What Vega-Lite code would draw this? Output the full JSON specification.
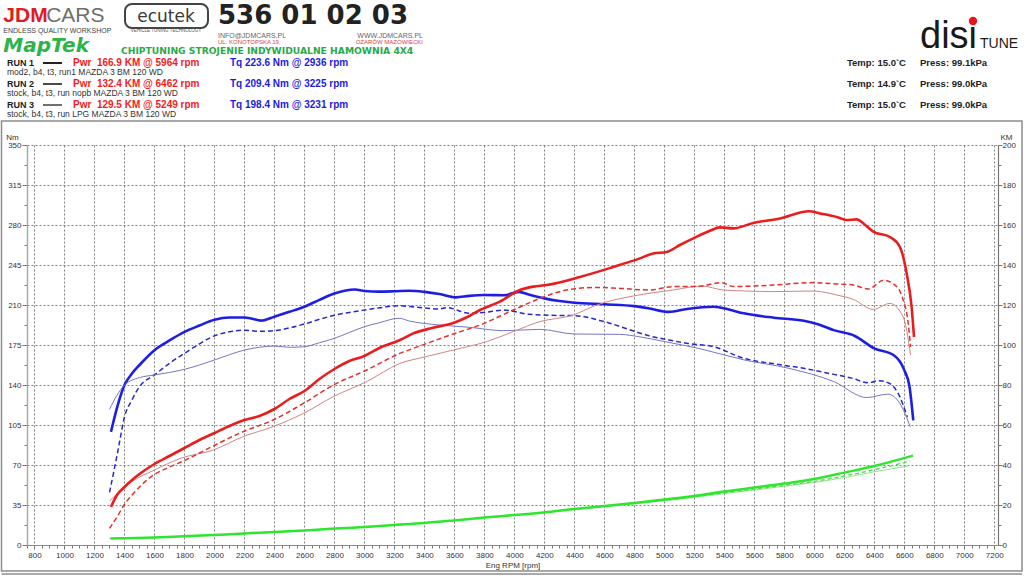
{
  "$schema": "https://vega.github.io/schema/vega-lite/v6.json",
  "autosize": {"type": "none"},
  "padding": {"left": 27, "top": 145, "right": 26, "bottom": 31},
  "width": 971,
  "height": 400,
  "background": "white",
  "config": {"view": {"stroke": null}, "font": "Liberation Sans"},
  "datasets": {
    "runs": [
      {"run": "RUN 1", "setup": "mod2, b4, t3, run1 MAZDA 3 BM 120 WD", "pwr": 166.9, "pwr_rpm": 5964, "tq": 223.6, "tq_rpm": 2936, "temp": 15.0, "press": 99.1},
      {"run": "RUN 2", "setup": "stock, b4, t3, run nopb MAZDA 3 BM 120 WD", "pwr": 132.4, "pwr_rpm": 6462, "tq": 209.4, "tq_rpm": 3225, "temp": 14.9, "press": 99.0},
      {"run": "RUN 3", "setup": "stock, b4, t3, run LPG MAZDA 3 BM 120 WD", "pwr": 129.5, "pwr_rpm": 5249, "tq": 198.4, "tq_rpm": 3231, "temp": 15.0, "press": 99.0}
    ],
    "torque": [
      {"run":1,"rpm":1310,"nm":99},{"run":1,"rpm":1350,"nm":120},{"run":1,"rpm":1400,"nm":140},{"run":1,"rpm":1450,"nm":150},{"run":1,"rpm":1500,"nm":157.5},{"run":1,"rpm":1600,"nm":170.5},{"run":1,"rpm":1700,"nm":179},{"run":1,"rpm":1800,"nm":186.5},{"run":1,"rpm":1900,"nm":192},{"run":1,"rpm":2000,"nm":197},{"run":1,"rpm":2100,"nm":199},{"run":1,"rpm":2200,"nm":199},{"run":1,"rpm":2250,"nm":198},{"run":1,"rpm":2310,"nm":196.3},{"run":1,"rpm":2400,"nm":199.8},{"run":1,"rpm":2500,"nm":204},{"run":1,"rpm":2600,"nm":208.5},{"run":1,"rpm":2700,"nm":214.5},{"run":1,"rpm":2800,"nm":220},{"run":1,"rpm":2936,"nm":223.6},{"run":1,"rpm":3000,"nm":222.3},{"run":1,"rpm":3100,"nm":221.7},{"run":1,"rpm":3200,"nm":222},{"run":1,"rpm":3300,"nm":222.5},{"run":1,"rpm":3400,"nm":221.5},{"run":1,"rpm":3500,"nm":219.6},{"run":1,"rpm":3610,"nm":216.7},{"run":1,"rpm":3700,"nm":218},{"run":1,"rpm":3800,"nm":218.7},{"run":1,"rpm":3930,"nm":218.5},{"run":1,"rpm":4030,"nm":221.5},{"run":1,"rpm":4100,"nm":219},{"run":1,"rpm":4200,"nm":215.8},{"run":1,"rpm":4300,"nm":213.5},{"run":1,"rpm":4400,"nm":212},{"run":1,"rpm":4600,"nm":210.6},{"run":1,"rpm":4800,"nm":209},{"run":1,"rpm":4900,"nm":207},{"run":1,"rpm":5030,"nm":204},{"run":1,"rpm":5150,"nm":206.5},{"run":1,"rpm":5330,"nm":208.5},{"run":1,"rpm":5430,"nm":206},{"run":1,"rpm":5530,"nm":202.7},{"run":1,"rpm":5730,"nm":198.9},{"run":1,"rpm":5930,"nm":196.3},{"run":1,"rpm":6030,"nm":193},{"run":1,"rpm":6130,"nm":188},{"run":1,"rpm":6270,"nm":182.9},{"run":1,"rpm":6400,"nm":172},{"run":1,"rpm":6530,"nm":166},{"run":1,"rpm":6600,"nm":153},{"run":1,"rpm":6635,"nm":138.5},{"run":1,"rpm":6660,"nm":109},
      {"run":2,"rpm":1300,"nm":46},{"run":2,"rpm":1330,"nm":65},{"run":2,"rpm":1360,"nm":85},{"run":2,"rpm":1400,"nm":112},{"run":2,"rpm":1450,"nm":127},{"run":2,"rpm":1500,"nm":138.5},{"run":2,"rpm":1600,"nm":148.8},{"run":2,"rpm":1700,"nm":159},{"run":2,"rpm":1800,"nm":167.7},{"run":2,"rpm":1900,"nm":176},{"run":2,"rpm":2000,"nm":183},{"run":2,"rpm":2100,"nm":186.5},{"run":2,"rpm":2200,"nm":188},{"run":2,"rpm":2300,"nm":187},{"run":2,"rpm":2400,"nm":187.5},{"run":2,"rpm":2500,"nm":190},{"run":2,"rpm":2600,"nm":193.4},{"run":2,"rpm":2700,"nm":197.5},{"run":2,"rpm":2800,"nm":201},{"run":2,"rpm":2900,"nm":203.5},{"run":2,"rpm":3000,"nm":205.6},{"run":2,"rpm":3100,"nm":207.5},{"run":2,"rpm":3225,"nm":209.4},{"run":2,"rpm":3350,"nm":208},{"run":2,"rpm":3500,"nm":206.5},{"run":2,"rpm":3550,"nm":207.7},{"run":2,"rpm":3700,"nm":202.7},{"run":2,"rpm":3800,"nm":203.5},{"run":2,"rpm":3930,"nm":205.6},{"run":2,"rpm":4100,"nm":201.8},{"run":2,"rpm":4250,"nm":201},{"run":2,"rpm":4400,"nm":200.7},{"run":2,"rpm":4600,"nm":195.4},{"run":2,"rpm":4800,"nm":187},{"run":2,"rpm":4900,"nm":183},{"run":2,"rpm":5030,"nm":179.4},{"run":2,"rpm":5150,"nm":176.5},{"run":2,"rpm":5330,"nm":173.5},{"run":2,"rpm":5530,"nm":163.3},{"run":2,"rpm":5730,"nm":158.5},{"run":2,"rpm":5930,"nm":154.6},{"run":2,"rpm":6130,"nm":149.3},{"run":2,"rpm":6250,"nm":146},{"run":2,"rpm":6360,"nm":142},{"run":2,"rpm":6430,"nm":143.8},{"run":2,"rpm":6500,"nm":141.5},{"run":2,"rpm":6570,"nm":129.8},{"run":2,"rpm":6620,"nm":112},
      {"run":3,"rpm":1300,"nm":118.7},{"run":3,"rpm":1350,"nm":131},{"run":3,"rpm":1400,"nm":140},{"run":3,"rpm":1500,"nm":146.4},{"run":3,"rpm":1600,"nm":148.8},{"run":3,"rpm":1700,"nm":151},{"run":3,"rpm":1800,"nm":153.7},{"run":3,"rpm":1900,"nm":157.5},{"run":3,"rpm":2000,"nm":161.9},{"run":3,"rpm":2100,"nm":166.5},{"run":3,"rpm":2200,"nm":170.6},{"run":3,"rpm":2300,"nm":173},{"run":3,"rpm":2400,"nm":174.1},{"run":3,"rpm":2500,"nm":173},{"run":3,"rpm":2600,"nm":173.5},{"run":3,"rpm":2700,"nm":177},{"run":3,"rpm":2800,"nm":180.8},{"run":3,"rpm":2900,"nm":186},{"run":3,"rpm":3000,"nm":191},{"run":3,"rpm":3100,"nm":194.5},{"run":3,"rpm":3231,"nm":198.4},{"run":3,"rpm":3300,"nm":196},{"run":3,"rpm":3500,"nm":192.5},{"run":3,"rpm":3700,"nm":190.5},{"run":3,"rpm":3930,"nm":187.5},{"run":3,"rpm":4170,"nm":188.7},{"run":3,"rpm":4400,"nm":184.6},{"run":3,"rpm":4700,"nm":184.3},{"run":3,"rpm":4830,"nm":182.3},{"run":3,"rpm":5000,"nm":178},{"run":3,"rpm":5230,"nm":172},{"run":3,"rpm":5530,"nm":162},{"run":3,"rpm":5830,"nm":154.6},{"run":3,"rpm":6130,"nm":143},{"run":3,"rpm":6350,"nm":129},{"run":3,"rpm":6490,"nm":132},{"run":3,"rpm":6570,"nm":124},{"run":3,"rpm":6640,"nm":103.5}
    ],
    "power": [
      {"run":1,"rpm":1310,"km":19},{"run":1,"rpm":1350,"km":25},{"run":1,"rpm":1400,"km":29},{"run":1,"rpm":1450,"km":32.5},{"run":1,"rpm":1500,"km":35.5},{"run":1,"rpm":1600,"km":40.5},{"run":1,"rpm":1700,"km":44.5},{"run":1,"rpm":1800,"km":48.5},{"run":1,"rpm":1900,"km":52.5},{"run":1,"rpm":2000,"km":56},{"run":1,"rpm":2100,"km":59.5},{"run":1,"rpm":2200,"km":62.5},{"run":1,"rpm":2300,"km":64.5},{"run":1,"rpm":2400,"km":68},{"run":1,"rpm":2500,"km":73},{"run":1,"rpm":2600,"km":77},{"run":1,"rpm":2700,"km":83},{"run":1,"rpm":2800,"km":88},{"run":1,"rpm":2900,"km":92},{"run":1,"rpm":3000,"km":94.5},{"run":1,"rpm":3100,"km":98.5},{"run":1,"rpm":3237,"km":102.5},{"run":1,"rpm":3326,"km":105.8},{"run":1,"rpm":3450,"km":108.5},{"run":1,"rpm":3593,"km":111},{"run":1,"rpm":3700,"km":114.5},{"run":1,"rpm":3771,"km":117.5},{"run":1,"rpm":3904,"km":121.7},{"run":1,"rpm":4037,"km":127.5},{"run":1,"rpm":4126,"km":129.2},{"run":1,"rpm":4215,"km":130},{"run":1,"rpm":4437,"km":134},{"run":1,"rpm":4659,"km":139},{"run":1,"rpm":4837,"km":143.3},{"run":1,"rpm":4926,"km":145.8},{"run":1,"rpm":5015,"km":146.5},{"run":1,"rpm":5104,"km":150},{"run":1,"rpm":5193,"km":153.3},{"run":1,"rpm":5300,"km":157},{"run":1,"rpm":5371,"km":158.8},{"run":1,"rpm":5460,"km":158.3},{"run":1,"rpm":5593,"km":161},{"run":1,"rpm":5771,"km":163.3},{"run":1,"rpm":5964,"km":166.9},{"run":1,"rpm":6038,"km":165.8},{"run":1,"rpm":6150,"km":164},{"run":1,"rpm":6215,"km":162.5},{"run":1,"rpm":6282,"km":162.8},{"run":1,"rpm":6340,"km":160},{"run":1,"rpm":6393,"km":156.7},{"run":1,"rpm":6504,"km":154},{"run":1,"rpm":6571,"km":149},{"run":1,"rpm":6616,"km":135.8},{"run":1,"rpm":6649,"km":119},{"run":1,"rpm":6665,"km":104},
      {"run":2,"rpm":1300,"km":8.3},{"run":2,"rpm":1350,"km":14},{"run":2,"rpm":1397,"km":20},{"run":2,"rpm":1450,"km":25},{"run":2,"rpm":1500,"km":29},{"run":2,"rpm":1594,"km":35},{"run":2,"rpm":1700,"km":39},{"run":2,"rpm":1808,"km":42.5},{"run":2,"rpm":1900,"km":46},{"run":2,"rpm":2005,"km":50},{"run":2,"rpm":2192,"km":56.7},{"run":2,"rpm":2392,"km":62.5},{"run":2,"rpm":2593,"km":70.8},{"run":2,"rpm":2793,"km":80},{"run":2,"rpm":3015,"km":87.5},{"run":2,"rpm":3237,"km":95.8},{"run":2,"rpm":3326,"km":98.3},{"run":2,"rpm":3593,"km":105.5},{"run":2,"rpm":3771,"km":110},{"run":2,"rpm":3993,"km":117.5},{"run":2,"rpm":4171,"km":123.3},{"run":2,"rpm":4349,"km":127.5},{"run":2,"rpm":4549,"km":128.8},{"run":2,"rpm":4704,"km":128.3},{"run":2,"rpm":4900,"km":127.5},{"run":2,"rpm":5059,"km":129.2},{"run":2,"rpm":5215,"km":129.2},{"run":2,"rpm":5382,"km":131.2},{"run":2,"rpm":5460,"km":129.2},{"run":2,"rpm":5600,"km":129.5},{"run":2,"rpm":5727,"km":130},{"run":2,"rpm":5993,"km":131.2},{"run":2,"rpm":6150,"km":130.5},{"run":2,"rpm":6260,"km":130},{"run":2,"rpm":6360,"km":128},{"run":2,"rpm":6462,"km":132.4},{"run":2,"rpm":6549,"km":129.2},{"run":2,"rpm":6593,"km":122.5},{"run":2,"rpm":6626,"km":111},{"run":2,"rpm":6642,"km":99},
      {"run":3,"rpm":1300,"km":22},{"run":3,"rpm":1350,"km":25.5},{"run":3,"rpm":1450,"km":31.7},{"run":3,"rpm":1600,"km":37.5},{"run":3,"rpm":1772,"km":43.3},{"run":3,"rpm":1992,"km":47.5},{"run":3,"rpm":2192,"km":54.2},{"run":3,"rpm":2392,"km":59.2},{"run":3,"rpm":2593,"km":65.8},{"run":3,"rpm":2793,"km":74.2},{"run":3,"rpm":3015,"km":81.7},{"run":3,"rpm":3237,"km":90.8},{"run":3,"rpm":3400,"km":94},{"run":3,"rpm":3593,"km":97.5},{"run":3,"rpm":3815,"km":101.7},{"run":3,"rpm":3993,"km":106.7},{"run":3,"rpm":4171,"km":111.7},{"run":3,"rpm":4393,"km":115},{"run":3,"rpm":4549,"km":120},{"run":3,"rpm":4793,"km":124.5},{"run":3,"rpm":5059,"km":127.5},{"run":3,"rpm":5249,"km":129.5},{"run":3,"rpm":5393,"km":127.5},{"run":3,"rpm":5550,"km":127},{"run":3,"rpm":5727,"km":126.7},{"run":3,"rpm":5993,"km":127},{"run":3,"rpm":6150,"km":125},{"run":3,"rpm":6260,"km":122.8},{"run":3,"rpm":6393,"km":117.8},{"run":3,"rpm":6504,"km":120.8},{"run":3,"rpm":6593,"km":114},{"run":3,"rpm":6642,"km":95}
    ],
    "loss": [
      {"run":1,"rpm":1310,"km":3.3},{"run":1,"rpm":1600,"km":3.8},{"run":1,"rpm":1800,"km":4.4},{"run":1,"rpm":2000,"km":5},{"run":1,"rpm":2200,"km":5.8},{"run":1,"rpm":2400,"km":6.5},{"run":1,"rpm":2600,"km":7.3},{"run":1,"rpm":2800,"km":8.2},{"run":1,"rpm":3000,"km":9},{"run":1,"rpm":3200,"km":10},{"run":1,"rpm":3400,"km":11},{"run":1,"rpm":3600,"km":12.3},{"run":1,"rpm":3800,"km":13.7},{"run":1,"rpm":4000,"km":15},{"run":1,"rpm":4200,"km":16.3},{"run":1,"rpm":4400,"km":18},{"run":1,"rpm":4600,"km":19.5},{"run":1,"rpm":4800,"km":21},{"run":1,"rpm":5000,"km":22.7},{"run":1,"rpm":5200,"km":24.5},{"run":1,"rpm":5400,"km":26.7},{"run":1,"rpm":5600,"km":28.7},{"run":1,"rpm":5800,"km":30.7},{"run":1,"rpm":6000,"km":33},{"run":1,"rpm":6200,"km":36.2},{"run":1,"rpm":6400,"km":39.5},{"run":1,"rpm":6658,"km":44.7},
      {"run":2,"rpm":1300,"km":3.3},{"run":2,"rpm":1600,"km":3.8},{"run":2,"rpm":1800,"km":4.4},{"run":2,"rpm":2000,"km":5},{"run":2,"rpm":2200,"km":5.8},{"run":2,"rpm":2400,"km":6.5},{"run":2,"rpm":2600,"km":7.3},{"run":2,"rpm":2800,"km":8.2},{"run":2,"rpm":3000,"km":9},{"run":2,"rpm":3200,"km":10},{"run":2,"rpm":3400,"km":11},{"run":2,"rpm":3600,"km":12.3},{"run":2,"rpm":3800,"km":13.7},{"run":2,"rpm":4000,"km":15},{"run":2,"rpm":4200,"km":16.3},{"run":2,"rpm":4400,"km":17.9},{"run":2,"rpm":4600,"km":19.4},{"run":2,"rpm":4800,"km":20.8},{"run":2,"rpm":5000,"km":22.4},{"run":2,"rpm":5200,"km":24.1},{"run":2,"rpm":5400,"km":26.1},{"run":2,"rpm":5600,"km":27.9},{"run":2,"rpm":5800,"km":29.8},{"run":2,"rpm":6000,"km":31.8},{"run":2,"rpm":6200,"km":34.5},{"run":2,"rpm":6400,"km":37.6},{"run":2,"rpm":6640,"km":42},
      {"run":3,"rpm":1300,"km":3.3},{"run":3,"rpm":1600,"km":3.8},{"run":3,"rpm":1800,"km":4.4},{"run":3,"rpm":2000,"km":5},{"run":3,"rpm":2200,"km":5.8},{"run":3,"rpm":2400,"km":6.5},{"run":3,"rpm":2600,"km":7.3},{"run":3,"rpm":2800,"km":8.2},{"run":3,"rpm":3000,"km":9},{"run":3,"rpm":3200,"km":10},{"run":3,"rpm":3400,"km":11},{"run":3,"rpm":3600,"km":12.3},{"run":3,"rpm":3800,"km":13.6},{"run":3,"rpm":4000,"km":14.9},{"run":3,"rpm":4200,"km":16.2},{"run":3,"rpm":4400,"km":17.8},{"run":3,"rpm":4600,"km":19.2},{"run":3,"rpm":4800,"km":20.6},{"run":3,"rpm":5000,"km":22.1},{"run":3,"rpm":5200,"km":23.8},{"run":3,"rpm":5400,"km":25.7},{"run":3,"rpm":5600,"km":27.5},{"run":3,"rpm":5800,"km":29.4},{"run":3,"rpm":6000,"km":31.3},{"run":3,"rpm":6200,"km":33.7},{"run":3,"rpm":6400,"km":36.6},{"run":3,"rpm":6630,"km":39.5}
    ]
  },
  "layer": [
    {
      "layer": [
        {
          "data": {"name": "torque"},
          "transform": [{"filter": "datum.run === 1"}],
          "mark": {"type": "line", "color": "#1e1ee0", "strokeWidth": 2.6, "interpolate": "monotone"},
          "encoding": {
            "x": {
              "field": "rpm", "type": "quantitative",
              "scale": {"domain": [750, 7225], "nice": false, "zero": false},
              "axis": {
                "title": "Eng RPM [rpm]", "tickCount": 130, "format": "d",
                "labelExpr": "datum.value % 200 === 0 ? datum.label : ''",
                "labelOverlap": false, "labelFlush": false,
                "grid": true, "gridColor": "#808080", "gridDash": [2, 2], "gridWidth": 1,
                "gridOpacity": {"condition": {"test": "datum.value % 200 === 0", "value": 1}, "value": 0},
                "tickSize": {"condition": {"test": "datum.value % 200 === 0", "value": 4}, "value": 3},
                "tickColor": "#777", "domainColor": "#888", "domainWidth": 1.2,
                "labelFont": "Liberation Sans", "labelFontSize": 8, "labelColor": "#333", "labelPadding": 2,
                "titleFont": "Liberation Sans", "titleFontSize": 8, "titleFontWeight": "normal", "titleColor": "#333", "titlePadding": 2
              }
            },
            "y": {
              "field": "nm", "type": "quantitative",
              "scale": {"domain": [0, 350], "nice": false, "zero": true},
              "axis": {
                "orient": "left", "title": "Nm", "titleAngle": 0, "titleAlign": "center", "titleBaseline": "alphabetic", "titleX": -15, "titleY": -6,
                "titleFont": "Liberation Sans", "titleFontSize": 8, "titleFontWeight": "normal", "titleColor": "#333",
                "values": [0, 17.5, 35, 52.5, 70, 87.5, 105, 122.5, 140, 157.5, 175, 192.5, 210, 227.5, 245, 262.5, 280, 297.5, 315, 332.5, 350],
                "tickCount": 40,
                "format": "d",
                "labelExpr": "datum.value % 35 === 0 ? datum.label : ''",
                "labelOverlap": false, "labelFlush": false,
                "grid": true, "gridColor": "#808080", "gridDash": [2, 2], "gridWidth": 1,
                "gridOpacity": {"condition": {"test": "datum.value % 35 === 0", "value": 1}, "value": 0},
                "tickSize": {"condition": {"test": "datum.value % 35 === 0", "value": 5}, "value": 3},
                "tickColor": "#777", "domainColor": "#aaa", "domainWidth": 1.5,
                "labelFont": "Liberation Sans", "labelFontSize": 8, "labelColor": "#333", "labelPadding": 1
              }
            }
          }
        },
        {
          "data": {"name": "torque"},
          "transform": [{"filter": "datum.run === 2"}],
          "mark": {"type": "line", "color": "#2828c8", "strokeWidth": 1.5, "strokeDash": [5, 3], "interpolate": "monotone"},
          "encoding": {"x": {"field": "rpm", "type": "quantitative"}, "y": {"field": "nm", "type": "quantitative"}}
        },
        {
          "data": {"name": "torque"},
          "transform": [{"filter": "datum.run === 3"}],
          "mark": {"type": "line", "color": "#7676c2", "strokeWidth": 1, "interpolate": "monotone"},
          "encoding": {"x": {"field": "rpm", "type": "quantitative"}, "y": {"field": "nm", "type": "quantitative"}}
        }
      ]
    },
    {
      "layer": [
        {
          "data": {"name": "loss"},
          "transform": [{"filter": "datum.run === 3"}],
          "mark": {"type": "line", "color": "#8fe88f", "strokeWidth": 1, "interpolate": "monotone"},
          "encoding": {
            "x": {"field": "rpm", "type": "quantitative"},
            "y": {
              "field": "km", "type": "quantitative",
              "scale": {"domain": [0, 200], "nice": false, "zero": true},
              "axis": {
                "orient": "right", "title": "KM", "titleAngle": 0, "titleAlign": "center", "titleBaseline": "alphabetic", "titleX": 8, "titleY": -6,
                "titleFont": "Liberation Sans", "titleFontSize": 8, "titleFontWeight": "normal", "titleColor": "#333",
                "tickCount": 20, "format": "d",
                "labelExpr": "datum.value % 20 === 0 ? datum.label : ''",
                "labelOverlap": false, "labelFlush": false, "grid": false,
                "tickSize": {"condition": {"test": "datum.value % 20 === 0", "value": 4}, "value": 3},
                "tickColor": "#777", "domainColor": "#777", "domainWidth": 1.2,
                "labelFont": "Liberation Sans", "labelFontSize": 8, "labelColor": "#333", "labelPadding": 0
              }
            }
          }
        },
        {
          "data": {"name": "loss"},
          "transform": [{"filter": "datum.run === 2"}],
          "mark": {"type": "line", "color": "#4fd84f", "strokeWidth": 1.3, "strokeDash": [4, 3], "interpolate": "monotone"},
          "encoding": {"x": {"field": "rpm", "type": "quantitative"}, "y": {"field": "km", "type": "quantitative"}}
        },
        {
          "data": {"name": "loss"},
          "transform": [{"filter": "datum.run === 1"}],
          "mark": {"type": "line", "color": "#2ee62e", "strokeWidth": 2.5, "interpolate": "monotone"},
          "encoding": {"x": {"field": "rpm", "type": "quantitative"}, "y": {"field": "km", "type": "quantitative"}}
        },
        {
          "data": {"name": "power"},
          "transform": [{"filter": "datum.run === 3"}],
          "mark": {"type": "line", "color": "#d08585", "strokeWidth": 1, "interpolate": "monotone"},
          "encoding": {"x": {"field": "rpm", "type": "quantitative"}, "y": {"field": "km", "type": "quantitative"}}
        },
        {
          "data": {"name": "power"},
          "transform": [{"filter": "datum.run === 2"}],
          "mark": {"type": "line", "color": "#e03030", "strokeWidth": 1.5, "strokeDash": [5, 3], "interpolate": "monotone"},
          "encoding": {"x": {"field": "rpm", "type": "quantitative"}, "y": {"field": "km", "type": "quantitative"}}
        },
        {
          "data": {"name": "power"},
          "transform": [{"filter": "datum.run === 1"}],
          "mark": {"type": "line", "color": "#e81e1e", "strokeWidth": 2.6, "interpolate": "monotone"},
          "encoding": {"x": {"field": "rpm", "type": "quantitative"}, "y": {"field": "km", "type": "quantitative"}}
        }
      ]
    },
    {
      "data": {"name": "runs"},
      "transform": [
        {"calculate": "'Pwr\u00a0 ' + format(datum.pwr, '.1f') + ' KM @ ' + datum.pwr_rpm + ' rpm'", "as": "pwr_label"},
        {"calculate": "'Tq ' + format(datum.tq, '.1f') + ' Nm @ ' + datum.tq_rpm + ' rpm'", "as": "tq_label"},
        {"calculate": "'Temp: ' + format(datum.temp, '.1f') + '`C'", "as": "temp_label"},
        {"calculate": "'Press: ' + format(datum.press, '.1f') + 'kPa'", "as": "press_label"}
      ],
      "encoding": {
        "y": {"field": "run", "type": "nominal", "scale": {"type": "point", "domain": ["RUN 1", "RUN 2", "RUN 3"], "range": [-79, -37], "padding": 0}, "axis": null}
      },
      "layer": [
        {
          "mark": {"type": "text", "align": "left", "baseline": "alphabetic", "fontWeight": "bold", "fontSize": 9, "color": "#222", "font": "Liberation Sans"},
          "encoding": {"x": {"datum": 616.6, "type": "quantitative"}, "text": {"field": "run"}}
        },
        {
          "mark": {"type": "rule", "color": "#222", "yOffset": -3},
          "encoding": {
            "x": {"datum": 856.7, "type": "quantitative"}, "x2": {"datum": 983.4},
            "strokeWidth": {"field": "run", "type": "nominal", "scale": {"domain": ["RUN 1", "RUN 2", "RUN 3"], "range": [2, 1.3, 0.8]}, "legend": null}
          }
        },
        {
          "mark": {"type": "text", "align": "left", "baseline": "alphabetic", "fontWeight": "bold", "fontSize": 10, "color": "#f01c1c", "font": "Liberation Sans"},
          "encoding": {"x": {"datum": 1056.7, "type": "quantitative"}, "text": {"field": "pwr_label"}}
        },
        {
          "mark": {"type": "text", "align": "left", "baseline": "alphabetic", "fontWeight": "bold", "fontSize": 10, "color": "#1c1ce0", "font": "Liberation Sans"},
          "encoding": {"x": {"datum": 2103.7, "type": "quantitative"}, "text": {"field": "tq_label"}}
        },
        {
          "mark": {"type": "text", "align": "left", "baseline": "alphabetic", "fontSize": 8.5, "color": "#333", "dy": 9, "font": "Liberation Sans"},
          "encoding": {"x": {"datum": 616.6, "type": "quantitative"}, "text": {"field": "setup"}}
        },
        {
          "mark": {"type": "text", "align": "left", "baseline": "alphabetic", "fontWeight": "bold", "fontSize": 9.5, "color": "#222", "font": "Liberation Sans"},
          "encoding": {"x": {"datum": 6218, "type": "quantitative"}, "text": {"field": "temp_label"}}
        },
        {
          "mark": {"type": "text", "align": "left", "baseline": "alphabetic", "fontWeight": "bold", "fontSize": 9.5, "color": "#222", "font": "Liberation Sans"},
          "encoding": {"x": {"datum": 6705, "type": "quantitative"}, "text": {"field": "press_label"}}
        }
      ]
    },
    {
      "data": {"values": [{}]},
      "layer": [
        {
          "mark": {"type": "rect", "fillOpacity": 0, "stroke": "#8c8c8c", "strokeWidth": 1.5},
          "encoding": {"x": {"datum": 580, "type": "quantitative"}, "x2": {"datum": 7385}, "y": {"datum": 371, "type": "quantitative", "scale": {"domain": [0, 350], "nice": false, "zero": true}, "axis": null}, "y2": {"datum": -22.75}}
        },
        {
          "mark": {"type": "rule", "stroke": "#8c8c8c", "strokeWidth": 1.5},
          "encoding": {"x": {"datum": 580, "type": "quantitative"}, "x2": {"datum": 7385}, "y": {"datum": -25.4, "type": "quantitative", "axis": null}}
        },
        {
          "mark": {"type": "text", "text": "JDM", "font": "Liberation Sans", "fontSize": 21, "fontWeight": "bold", "color": "#e01b22", "align": "left", "baseline": "alphabetic"},
          "encoding": {"x": {"datum": 592, "type": "quantitative"}, "y": {"datum": 457.2, "type": "quantitative", "axis": null}}
        },
        {
          "mark": {"type": "text", "text": "CARS", "font": "Liberation Sans", "fontSize": 21, "color": "#6e6e6e", "align": "left", "baseline": "alphabetic"},
          "encoding": {"x": {"datum": 878, "type": "quantitative"}, "y": {"datum": 457.2, "type": "quantitative", "axis": null}}
        },
        {
          "mark": {"type": "text", "text": "ENDLESS QUALITY WORKSHOP", "font": "Liberation Sans", "fontSize": 7, "color": "#444", "align": "left", "baseline": "alphabetic"},
          "encoding": {"x": {"datum": 592, "type": "quantitative"}, "y": {"datum": 447.6, "type": "quantitative", "axis": null}}
        },
        {
          "mark": {"type": "rect", "fillOpacity": 0, "stroke": "#444", "strokeWidth": 2, "cornerRadius": 7},
          "encoding": {"x": {"datum": 1403.5, "type": "quantitative"}, "x2": {"datum": 1957}, "y": {"datum": 473.4, "type": "quantitative", "axis": null}, "y2": {"datum": 452.4}}
        },
        {
          "mark": {"type": "text", "text": "ecutek", "font": "DejaVu Sans", "fontSize": 17, "color": "#3a3a3a", "align": "center", "baseline": "alphabetic"},
          "encoding": {"x": {"datum": 1677, "type": "quantitative"}, "y": {"datum": 457.6, "type": "quantitative", "axis": null}}
        },
        {
          "mark": {"type": "text", "text": "VEHICLE TUNING TECHNOLOGY", "font": "Liberation Sans", "fontSize": 4.5, "color": "#555", "align": "center", "baseline": "alphabetic"},
          "encoding": {"x": {"datum": 1677, "type": "quantitative"}, "y": {"datum": 448.9, "type": "quantitative", "axis": null}}
        },
        {
          "mark": {"type": "text", "text": "536 01 02 03", "font": "DejaVu Sans", "fontSize": 26, "fontWeight": "bold", "color": "#222", "align": "left", "baseline": "alphabetic"},
          "encoding": {"x": {"datum": 2023.7, "type": "quantitative"}, "y": {"datum": 455.44, "type": "quantitative", "axis": null}}
        },
        {
          "mark": {"type": "text", "text": "INFO@JDMCARS.PL", "font": "Liberation Sans", "fontSize": 7, "color": "#666", "align": "left", "baseline": "alphabetic"},
          "encoding": {"x": {"datum": 2023.7, "type": "quantitative"}, "y": {"datum": 444.06, "type": "quantitative", "axis": null}}
        },
        {
          "mark": {"type": "text", "text": "WWW.JDMCARS.PL", "font": "Liberation Sans", "fontSize": 7, "color": "#666", "align": "right", "baseline": "alphabetic"},
          "encoding": {"x": {"datum": 3390.7, "type": "quantitative"}, "y": {"datum": 444.06, "type": "quantitative", "axis": null}}
        },
        {
          "mark": {"type": "text", "text": "UL. KONOTOPSKA 19,", "font": "Liberation Sans", "fontSize": 6, "color": "#d04545", "align": "left", "baseline": "alphabetic"},
          "encoding": {"x": {"datum": 2023.7, "type": "quantitative"}, "y": {"datum": 437.94, "type": "quantitative", "axis": null}}
        },
        {
          "mark": {"type": "text", "text": "OŻARÓW MAZOWIECKI", "font": "Liberation Sans", "fontSize": 6, "color": "#d04545", "align": "right", "baseline": "alphabetic"},
          "encoding": {"x": {"datum": 3390.7, "type": "quantitative"}, "y": {"datum": 437.94, "type": "quantitative", "axis": null}}
        },
        {
          "mark": {"type": "text", "text": "MapTek", "font": "DejaVu Sans", "fontSize": 20, "fontWeight": "bold", "fontStyle": "italic", "color": "#2db34a", "align": "left", "baseline": "alphabetic"},
          "encoding": {"x": {"datum": 592, "type": "quantitative"}, "y": {"datum": 431.4, "type": "quantitative", "axis": null}}
        },
        {
          "mark": {"type": "text", "text": "CHIPTUNING STROJENIE INDYWIDUALNE HAMOWNIA 4X4", "font": "DejaVu Sans", "fontSize": 9.2, "fontWeight": "bold", "color": "#2aa84a", "align": "left", "baseline": "alphabetic"},
          "encoding": {"x": {"datum": 1376.8, "type": "quantitative"}, "y": {"datum": 429.19, "type": "quantitative", "axis": null}}
        },
        {
          "mark": {"type": "text", "text": "disi", "font": "Liberation Sans", "fontSize": 38, "color": "#1a1a1a", "align": "left", "baseline": "alphabetic"},
          "encoding": {"x": {"datum": 6704.9, "type": "quantitative"}, "y": {"datum": 434.9, "type": "quantitative", "axis": null}}
        },
        {
          "mark": {"type": "point", "filled": true, "size": 70, "color": "#e8141c", "opacity": 1},
          "encoding": {"x": {"datum": 7058.3, "type": "quantitative"}, "y": {"datum": 458.5, "type": "quantitative", "axis": null}}
        },
        {
          "mark": {"type": "text", "text": "TUNE", "font": "Liberation Sans", "fontSize": 14, "color": "#1a1a1a", "align": "left", "baseline": "alphabetic"},
          "encoding": {"x": {"datum": 7105, "type": "quantitative"}, "y": {"datum": 434.9, "type": "quantitative", "axis": null}}
        }
      ]
    }
  ],
  "resolve": {"scale": {"y": "independent"}, "axis": {"y": "independent"}}
}
